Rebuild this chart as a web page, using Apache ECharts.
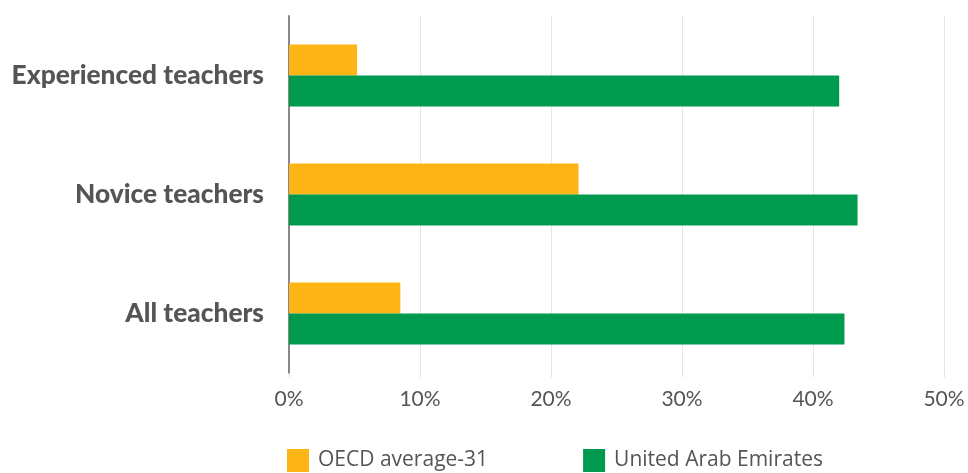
<!DOCTYPE html>
<html>
<head>
<meta charset="utf-8">
<script src="https://cdn.jsdelivr.net/npm/echarts@6/dist/echarts.min.js"></script>
<style>
    html, body { margin: 0; padding: 0; background: #fff; }
    #chart { width: 968px; height: 473px; }
</style>
</head>
<body>
<div id="chart"></div>
<script>
// bottom to top, as the y category axis runs
var categories = ['All teachers', 'Novice teachers', 'Experienced teachers']
var oecdValues = [8.5, 22.1, 5.2]
var uaeValues = [42.4, 43.4, 42.0]
var seriesNames = ['OECD average-31', 'United Arab Emirates']

var myChart = echarts.init(document.getElementById('chart'))
var option = {
    animation: false,
    grid: { left: 289, right: 24, top: 16, bottom: 100 },
    legend: {
        data: seriesNames,
        top: 449,
        left: 287,
        padding: 0,
        itemWidth: 22,
        itemHeight: 23,
        itemGap: 95,
        icon: 'rect',
        textStyle: { fontFamily: 'Open Sans', fontSize: 21, color: '#555', padding: [0, 0, 0, 4] }
    },
    xAxis: {
        type: 'value',
        min: 0,
        max: 50,
        interval: 10,
        axisLine: { show: false },
        axisTick: { show: true, length: 4, lineStyle: { color: '#ddd' } },
        axisLabel: {
            formatter: '{value}%',
            fontFamily: 'Lato',
            fontSize: 21,
            color: '#555',
            margin: 16
        },
        splitLine: { lineStyle: { color: '#e6e6e6', width: 1 } }
    },
    yAxis: {
        type: 'category',
        data: categories,
        axisLine: { lineStyle: { color: '#888', width: 2 } },
        axisTick: { show: false },
        axisLabel: {
            fontFamily: 'Lato',
            fontWeight: 900,
            fontSize: 26.3,
            color: '#555',
            margin: 25,
            padding: [5, 0, 0, 0]
        }
    },
    series: [
        {
            name: seriesNames[0],
            type: 'bar',
            data: oecdValues,
            barWidth: 31,
            barGap: '0%',
            itemStyle: { color: '#FDB515' }
        },
        {
            name: seriesNames[1],
            type: 'bar',
            data: uaeValues,
            barWidth: 31,
            barGap: '0%',
            itemStyle: { color: '#009A4E' }
        }
    ]
}
myChart.setOption(option)
</script>
</body>
</html>
